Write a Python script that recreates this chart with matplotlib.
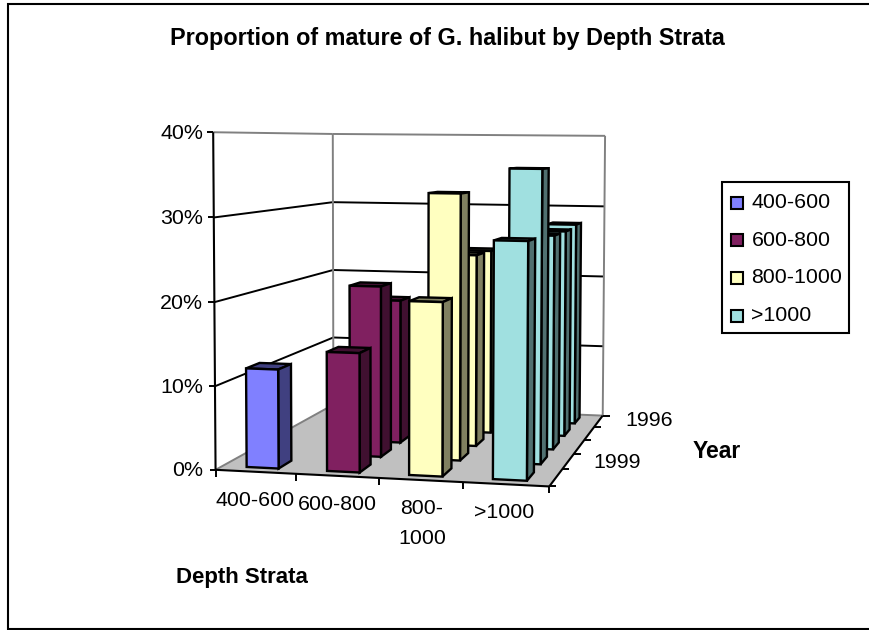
import numpy as np
import matplotlib
matplotlib.use('Agg')
import matplotlib.pyplot as plt
from matplotlib.patches import Polygon, Rectangle

plt.rcParams['font.family'] = ['Liberation Sans', 'DejaVu Sans']

# data, rows go from the back (1996) to the front (2000), 0 = no bar
years = [1996, 1997, 1998, 1999, 2000]
strata = ['400-600', '600-800', '800-1000', '>1000']
v_400 = [0, 0, 0, 0, 11.9]
v_600 = [0, 0, 18.5, 21.2, 14.2]
v_800 = [0, 24.5, 24.6, 32.8, 20.5]
v_1000 = [27.7, 27.3, 27.3, 35.9, 27.8]
series = [v_400, v_600, v_800, v_1000]

face = ['#8080FF', '#802060', '#FFFFC0', '#A0E0E0']
dark = ['#404080', '#401030', '#808060', '#507070']

# fit the 3D view of the chart box: (category, row from front, percent) -> pixel
anchors = [((0, 0, 0), (216, 469.5)), ((0, 0, 40), (213, 132)),
           ((0, 5, 0), (333, 405)), ((0, 5, 40), (333, 134)),
           ((4, 5, 0), (603, 415)), ((4, 5, 40), (605, 136)),
           ((4, 0, 0), (549, 487))]
A = []
b = []
for (u, v, w), (px, py) in anchors:
    A.append([u, v, w, 1, 0, 0, 0, 0, -px*u, -px*v, -px*w])
    b.append(px)
    A.append([0, 0, 0, 0, u, v, w, 1, -py*u, -py*v, -py*w])
    b.append(py)
m = np.linalg.lstsq(np.array(A, float), np.array(b, float), rcond=None)[0]

def proj(u, v, w):
    d = m[8]*u + m[9]*v + m[10]*w + 1
    return ((m[0]*u + m[1]*v + m[2]*w + m[3])/d, (m[4]*u + m[5]*v + m[6]*w + m[7])/d)

fig = plt.figure(figsize=(8.7, 6.3), dpi=100)
ax = fig.add_axes([0, 0, 1, 1])
ax.set_xlim(0, 870)
ax.set_ylim(630, 0)
ax.axis('off')

# chart border, runs off the right edge
ax.add_patch(Rectangle((8.5, 4), 900, 624.5, fc='white', ec='black', lw=1.5))

def line(p, q, c='black', lw=1.4, z=2):
    ax.plot([p[0], q[0]], [p[1], q[1]], color=c, lw=lw, zorder=z, solid_capstyle='butt')

# floor
ax.add_patch(Polygon([proj(0, 0, 0), proj(4, 0, 0), proj(4, 5, 0), proj(0, 5, 0)],
                     fc='#C0C0C0', ec='none', zorder=1))
line(proj(0, 0, 0), proj(0, 5, 0), '#808080')
line(proj(0, 5, 0), proj(4, 5, 0), '#808080')

# gridlines on both walls
for w in [10, 20, 30]:
    line(proj(0, 0, w), proj(0, 5, w))
    line(proj(0, 5, w), proj(4, 5, w))
line(proj(0, 0, 40), proj(0, 5, 40), '#808080')
line(proj(0, 5, 40), proj(4, 5, 40), '#808080')
line(proj(0, 5, 0), proj(0, 5, 40), '#808080')
line(proj(4, 5, 0), proj(4, 5, 40), '#808080')

# axes lines and ticks
line(proj(0, 0, 0), proj(0, 0, 40), 'black', 1.5, 2)
line(proj(0, 0, 0), proj(4, 0, 0), 'black', 1.5, 2)
line(proj(4, 0, 0), proj(4, 5, 0), 'black', 1.5, 2)
for w in range(0, 41, 10):
    p = proj(0, 0, w)
    line((p[0]-6, p[1]), p, 'black', 1.4)
for c in range(5):
    p = proj(c, 0, 0)
    line(p, (p[0], p[1]+7), 'black', 1.4)
for r in range(6):
    p = proj(4, r, 0)
    line(p, (p[0]+7, p[1]), 'black', 1.4)

# bars, left to right and back to front so nearer ones paint over
hw = 0.2
hd = 0.25
z = 5
for c in range(len(strata)):
    for i in range(len(years)):
        val = series[c][i]
        if val == 0:
            continue
        r = len(years) - 1 - i
        u0, u1 = c + 0.5 - hw, c + 0.5 + hw
        v0, v1 = r + 0.5 - hd, r + 0.5 + hd
        top = [proj(u0, v0, val), proj(u1, v0, val), proj(u1, v1, val), proj(u0, v1, val)]
        side = [proj(u1, v0, 0), proj(u1, v1, 0), proj(u1, v1, val), proj(u1, v0, val)]
        front = [proj(u0, v0, 0), proj(u1, v0, 0), proj(u1, v0, val), proj(u0, v0, val)]
        for pts, col in [(top, dark[c]), (side, dark[c]), (front, face[c])]:
            ax.add_patch(Polygon(pts, fc=col, ec='black', lw=1.7, joinstyle='miter', zorder=z))
            z += 1

# text
ax.text(447, 39, 'Proportion of mature of G. halibut by Depth Strata', fontsize=16.8,
        fontweight='bold', ha='center', va='center')
for w in range(0, 41, 10):
    p = proj(0, 0, w)
    ax.text(203, p[1] + 1, '%d%%' % w, fontsize=15.4, ha='right', va='center')
ax.text(255, 501, strata[0], fontsize=15.4, ha='center', va='center')
ax.text(337, 504, strata[1], fontsize=15.4, ha='center', va='center')
ax.text(422, 508, '800-', fontsize=15.4, ha='center', va='center')
ax.text(422, 538, '1000', fontsize=15.4, ha='center', va='center')
ax.text(504, 513, strata[3], fontsize=15.4, ha='center', va='center')
ax.text(649, 420, str(years[0]), fontsize=15.4, ha='center', va='center')
ax.text(617, 463, str(years[3]), fontsize=15.4, ha='center', va='center')
ax.text(717, 451, 'Year', fontsize=16.5, fontweight='bold', ha='center', va='center')
ax.text(242, 577, 'Depth Strata', fontsize=16, fontweight='bold', ha='center', va='center')

# legend
ax.add_patch(Rectangle((722.5, 182), 126.5, 151, fc='white', ec='black', lw=1.5, zorder=50))
key_y = [203, 240, 277.5, 315.5]
for i in range(len(strata)):
    ax.add_patch(Rectangle((731, key_y[i]-6), 12, 12, fc=face[i], ec='black', lw=1.5, zorder=51))
    ax.text(751.5, key_y[i], strata[i], fontsize=15.4, ha='left', va='center', zorder=51)

fig.savefig('out.png', dpi=100)
